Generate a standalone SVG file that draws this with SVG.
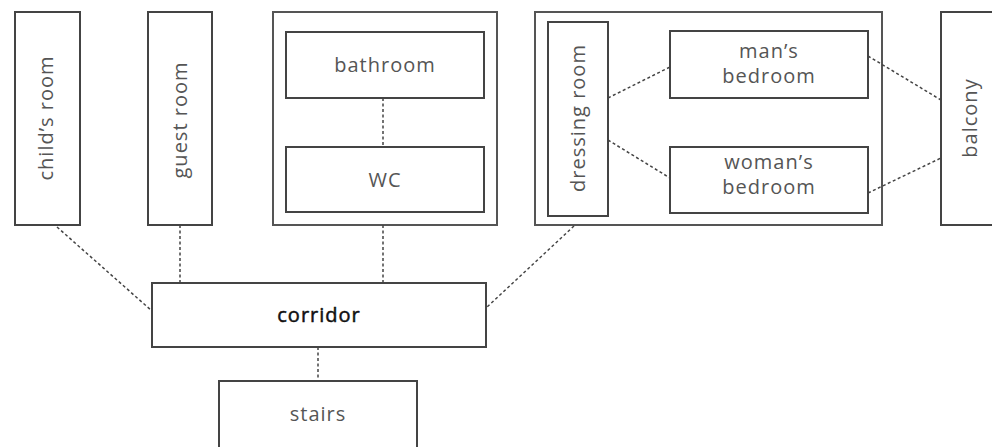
<svg xmlns="http://www.w3.org/2000/svg" width="992" height="447" viewBox="0 0 992 447">
<style>
.box{fill:#fff;stroke:#444;stroke-width:2}
.grp{fill:#fff;stroke:#555;stroke-width:2}
.lbl{font-family:"Open Sans","DejaVu Sans",sans-serif;font-size:20px;letter-spacing:1px;fill:#555;text-anchor:middle}
.bold{fill:#111;stroke:#111;stroke-width:0.5}
.con{stroke:#444;stroke-width:1.5;stroke-dasharray:3 2.5;fill:none}
</style>
<rect width="992" height="447" fill="#fff"/>
<g id="childs-room"><rect class="box" x="15" y="12" width="65" height="213"/><text class="lbl" transform="translate(53,118) rotate(-90)">child’s room</text></g>
<g id="guest-room"><rect class="box" x="148" y="12" width="64" height="213"/><text class="lbl" transform="translate(187,120) rotate(-90)">guest room</text></g>
<g id="bath-group"><rect class="grp" x="273" y="12" width="224" height="213"/></g>
<g id="bathroom"><rect class="box" x="286" y="32" width="198" height="66"/><text class="lbl" x="385" y="72">bathroom</text></g>
<g id="wc"><rect class="box" x="286" y="147" width="198" height="65"/><text class="lbl" x="385" y="187">WC</text></g>
<g id="bed-group"><rect class="grp" x="535" y="12" width="347" height="213"/></g>
<g id="dressing-room"><rect class="box" x="548" y="22" width="60" height="194"/><text class="lbl" transform="translate(585,118) rotate(-90)">dressing room</text></g>
<g id="mans-bedroom"><rect class="box" x="670" y="31" width="198" height="67"/><text class="lbl" x="769" y="58">man’s</text><text class="lbl" x="769" y="83">bedroom</text></g>
<g id="womans-bedroom"><rect class="box" x="670" y="147" width="198" height="66"/><text class="lbl" x="769" y="169">woman’s</text><text class="lbl" x="769" y="194">bedroom</text></g>
<g id="balcony"><rect class="box" x="941" y="12" width="60" height="213"/><text class="lbl" transform="translate(977,118) rotate(-90)">balcony</text></g>
<g id="corridor"><rect class="box" x="152" y="283" width="334" height="64"/><text class="lbl bold" x="319" y="322">corridor</text></g>
<g id="stairs"><rect class="box" x="219" y="381" width="198" height="70"/><text class="lbl" x="318" y="421">stairs</text></g>
<g id="connectors">
<line class="con" x1="383" y1="98" x2="383" y2="147"/>
<line class="con" x1="608" y1="98" x2="670" y2="67"/>
<line class="con" x1="608" y1="140" x2="670" y2="178"/>
<line class="con" x1="868" y1="56" x2="941" y2="100"/>
<line class="con" x1="868" y1="193" x2="941" y2="158"/>
<line class="con" x1="57" y1="227" x2="152" y2="311"/>
<line class="con" x1="180" y1="225" x2="180" y2="283"/>
<line class="con" x1="383" y1="225" x2="383" y2="283"/>
<line class="con" x1="574" y1="226" x2="486" y2="308"/>
<line class="con" x1="318" y1="347" x2="318" y2="381"/>
</g>
</svg>
